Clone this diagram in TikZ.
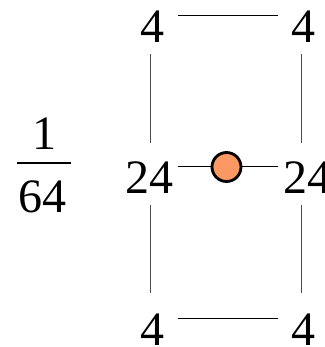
\documentclass[tikz,border=0pt]{standalone}
\usepackage{fontspec}
\setmainfont{Liberation Serif}
\definecolor{dotfill}{RGB}{252,152,100}
\begin{document}
\begin{tikzpicture}[x=1pt,y=-1pt,
  num/.style={inner sep=0pt,anchor=base,font=\fontsize{48}{52}\selectfont},
  vline/.style={draw=black!70,line width=1pt},
  hline/.style={draw=black,line width=1pt},
  dot/.style={circle,draw=black,line width=2.8pt,fill=dotfill,minimum size=29pt,inner sep=0pt}]
\useasboundingbox (0,0) rectangle (324,347);
% numbers
\node[num] (tl) at (152.3,43) {4};
\node[num] (tr) at (303.5,43) {4};
\node[num] (ml) at (149.8,193) {24};
\node[num] (mr) at (307,193) {24};
\node[num] (bl) at (152.3,345) {4};
\node[num] (br) at (303.5,345) {4};
\node[dot] (c) at (226.5,167) {};
% fraction
\node[num] (one) at (44,150) {1};
\node[num] (six) at (42,212) {64};
\coordinate (fb1) at (17,163);
\coordinate (fb2) at (71,163);
\draw[line width=2.8pt] (fb1) -- (fb2);
% line ends
\coordinate (t1) at (178,16);  \coordinate (t2) at (278,16);
\coordinate (b1) at (178,318); \coordinate (b2) at (278,318);
\coordinate (l1) at (150,54);  \coordinate (l2) at (150,143);
\coordinate (l3) at (150,205); \coordinate (l4) at (150,293);
\coordinate (r1) at (301.5,54);  \coordinate (r2) at (301.5,143);
\coordinate (r3) at (301.5,205); \coordinate (r4) at (301.5,293);
\coordinate (m1) at (178,167); \coordinate (m2) at (278,167);
\draw[hline] (t1) -- (t2);
\draw[hline] (b1) -- (b2);
\draw[vline] (l1) -- (l2);
\draw[vline] (l3) -- (l4);
\draw[vline] (r1) -- (r2);
\draw[vline] (r3) -- (r4);
\draw[hline] (m1) -- (c);
\draw[hline] (c) -- (m2);
\end{tikzpicture}
\end{document}
